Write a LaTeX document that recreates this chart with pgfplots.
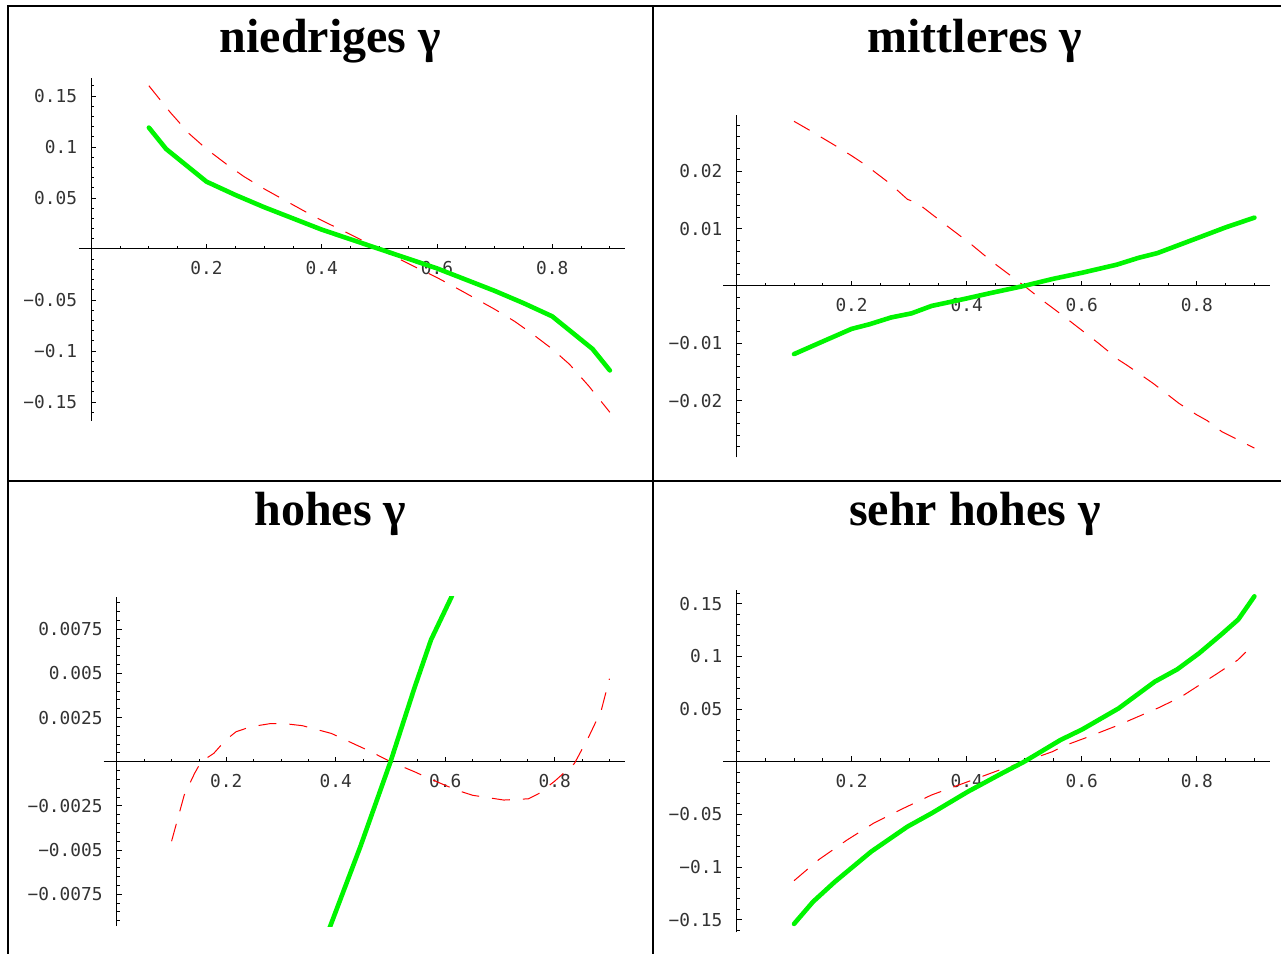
\documentclass[border=0pt]{standalone}
\usepackage{fontspec}
\setmainfont{Liberation Serif}
\newfontfamily\tickfont{DejaVu Sans Mono}
\usepackage{pgfplots}
\pgfplotsset{compat=1.18}
\definecolor{mygreen}{RGB}{0,245,0}
\definecolor{myred}{RGB}{255,0,0}
\pgfplotsset{
  mma/.style={
    scale only axis,
    axis lines=middle,
    axis line style={-, line width=0.5pt, black},
    tick align=inside,
    major tick length=2.6pt,
    minor tick length=1.6pt,
    every tick/.style={black, line width=0.4pt},
    tick label style={font=\tickfont\fontsize{8.9}{10}\selectfont, text=black!80},
    xticklabel style={anchor=north, yshift=-2.7pt},
    yticklabel style={anchor=east, xshift=-3.6pt},
    scaled y ticks=false,
    scaled x ticks=false,
    xtick={0.2,0.4,0.6,0.8},
    xticklabels={0.2,0.4,0.6,0.8},
    minor xtick={0.05,0.1,0.15,0.25,0.3,0.35,0.45,0.5,0.55,0.65,0.7,0.75,0.85,0.9},
    clip=true,
  },
  grn/.style={mygreen, line width=2.3pt, line join=round, line cap=round},
  rd/.style={myred, line width=0.5pt, dash pattern=on 9pt off 6.5pt},
}
\newcommand\titlefont{\bfseries\fontsize{24}{28}\selectfont}
\begin{document}
\begin{tikzpicture}
% frame
\draw[line width=1.2pt] (3.9pt,-477pt) -- (3.9pt,-3.1pt) -- (640.5pt,-3.1pt);
\draw[line width=1.2pt] (326.35pt,-3.1pt) -- (326.35pt,-477pt);
\draw[line width=1.2pt] (3.9pt,-240.5pt) -- (640.5pt,-240.5pt);
% titles
\node[anchor=base, inner sep=0pt] at (165.2pt,-26pt) {\titlefont niedriges γ};
\node[anchor=base, inner sep=0pt] at (487.5pt,-26pt) {\titlefont mittleres γ};
\node[anchor=base, inner sep=0pt] at (165.2pt,-262.5pt) {\titlefont hohes γ};
\node[anchor=base, inner sep=0pt] at (487.5pt,-262.5pt) {\titlefont sehr hohes γ};

% Panel 1
\begin{axis}[mma, at={(39.4pt,-210.35pt)}, anchor=south west,
  width=273pt, height=171.2pt,
  xmin=-0.0216, xmax=0.926, ymin=-0.1683, ymax=0.1673,
  ytick={-0.15,-0.1,-0.05,0.05,0.1,0.15},
  yticklabels={−0.15,−0.1,−0.05,0.05,0.1,0.15},
  minor ytick={-0.16,-0.14,-0.13,-0.12,-0.11,-0.09,-0.08,-0.07,-0.06,-0.04,-0.03,-0.02,-0.01,0.01,0.02,0.03,0.04,0.06,0.07,0.08,0.09,0.11,0.12,0.13,0.14,0.16}]
\addplot[rd] coordinates {(0.1,0.160) (0.137,0.134) (0.17,0.113) (0.2,0.098) (0.235,0.083) (0.265,0.071) (0.3,0.059) (0.335,0.048) (0.367,0.038) (0.4,0.028) (0.44,0.017) (0.47,0.0085) (0.5,0) (0.53,-0.0085) (0.56,-0.017) (0.6,-0.028) (0.633,-0.038) (0.665,-0.048) (0.7,-0.059) (0.735,-0.071) (0.765,-0.083) (0.8,-0.098) (0.83,-0.113) (0.863,-0.134) (0.9,-0.160)};
\addplot[grn] coordinates {(0.1,0.119) (0.13,0.098) (0.165,0.082) (0.2,0.066) (0.25,0.053) (0.3,0.041) (0.35,0.030) (0.4,0.019) (0.45,0.0095) (0.5,0) (0.55,-0.0095) (0.6,-0.019) (0.65,-0.030) (0.7,-0.041) (0.75,-0.053) (0.8,-0.066) (0.835,-0.082) (0.87,-0.098) (0.9,-0.119)};
\end{axis}

% Panel 2
\begin{axis}[mma, at={(361.6pt,-228.65pt)}, anchor=south west,
  width=273.25pt, height=171.15pt,
  xmin=-0.0231, xmax=0.9266, ymin=-0.0299, ymax=0.0298,
  ytick={-0.02,-0.01,0.01,0.02},
  yticklabels={−0.02,−0.01,0.01,0.02},
  minor ytick={-0.028,-0.026,-0.024,-0.022,-0.018,-0.016,-0.014,-0.012,-0.008,-0.006,-0.004,-0.002,0.002,0.004,0.006,0.008,0.012,0.014,0.016,0.018,0.022,0.024,0.026,0.028}]
\addplot[rd] coordinates {(0.1,0.0287) (0.126,0.0272) (0.171,0.0245) (0.2,0.0227) (0.224,0.0211) (0.266,0.0179) (0.297,0.0151) (0.315,0.0144) (0.36,0.0109) (0.406,0.0074) (0.43,0.0054) (0.451,0.0037) (0.5,0) (0.538,-0.0030) (0.566,-0.0051) (0.629,-0.0100) (0.664,-0.0129) (0.678,-0.0138) (0.724,-0.0170) (0.769,-0.0205) (0.8,-0.0225) (0.818,-0.0235) (0.843,-0.0254) (0.9,-0.0283)};
\addplot[grn] coordinates {(0.1,-0.0119) (0.143,-0.0100) (0.2,-0.0075) (0.231,-0.0067) (0.269,-0.0055) (0.304,-0.0048) (0.339,-0.0035) (0.395,-0.0023) (0.444,-0.0012) (0.5,0) (0.549,0.0012) (0.601,0.0023) (0.661,0.0037) (0.699,0.0049) (0.731,0.0057) (0.8,0.0083) (0.85,0.0102) (0.9,0.0119)};
\end{axis}

% Panel 3
\begin{axis}[mma, at={(51.8pt,-463pt)}, anchor=south west,
  width=260.8pt, height=164.65pt,
  xmin=-0.0242, xmax=0.9288, ymin=-0.0093, ymax=0.00934,
  ytick={-0.0075,-0.005,-0.0025,0.0025,0.005,0.0075},
  yticklabels={−0.0075,−0.005,−0.0025,0.0025,0.005,0.0075},
  minor ytick={-0.009,-0.0085,-0.008,-0.007,-0.0065,-0.006,-0.0055,-0.0045,-0.004,-0.0035,-0.003,-0.002,-0.0015,-0.001,-0.0005,0.0005,0.001,0.0015,0.002,0.003,0.0035,0.004,0.0045,0.0055,0.006,0.0065,0.007,0.008,0.0085,0.009}]
\addplot[rd] coordinates {(0.1,-0.0045) (0.123,-0.0019) (0.142,-0.00066) (0.154,0) (0.177,0.00047) (0.199,0.00123) (0.218,0.0017) (0.245,0.00198) (0.279,0.00215) (0.302,0.00217) (0.339,0.00204) (0.392,0.0016) (0.438,0.00094) (0.464,0.00057) (0.5,0) (0.544,-0.00057) (0.57,-0.00094) (0.62,-0.0016) (0.65,-0.0019) (0.707,-0.00217) (0.752,-0.0021) (0.771,-0.0018) (0.8,-0.0011) (0.836,-0.0001) (0.862,0.0014) (0.885,0.0029) (0.9,0.0047)};
\addplot[grn] coordinates {(0.35,-0.0125) (0.39,-0.0093) (0.445,-0.0048) (0.5,0) (0.544,0.0042) (0.574,0.0069) (0.611,0.0093) (0.65,0.0125)};
\end{axis}

% Panel 4
\begin{axis}[mma, at={(361.6pt,-466.15pt)}, anchor=south west,
  width=273.25pt, height=171.15pt,
  xmin=-0.0231, xmax=0.9266, ymin=-0.162, ymax=0.163,
  ytick={-0.15,-0.1,-0.05,0.05,0.1,0.15},
  yticklabels={−0.15,−0.1,−0.05,0.05,0.1,0.15},
  minor ytick={-0.16,-0.14,-0.13,-0.12,-0.11,-0.09,-0.08,-0.07,-0.06,-0.04,-0.03,-0.02,-0.01,0.01,0.02,0.03,0.04,0.06,0.07,0.08,0.09,0.11,0.12,0.13,0.14,0.16}]
\addplot[rd] coordinates {(0.1,-0.113) (0.143,-0.093) (0.192,-0.0744) (0.238,-0.0585) (0.29,-0.0443) (0.339,-0.0316) (0.402,-0.019) (0.465,-0.0063) (0.5,0) (0.549,0.0095) (0.57,0.0152) (0.612,0.0237) (0.664,0.0348) (0.734,0.0513) (0.773,0.0617) (0.836,0.0839) (0.871,0.0965) (0.885,0.104)};
\addplot[grn] coordinates {(0.1,-0.154) (0.133,-0.133) (0.171,-0.114) (0.234,-0.0854) (0.297,-0.0617) (0.339,-0.049) (0.402,-0.0285) (0.458,-0.012) (0.5,0) (0.563,0.0206) (0.601,0.0307) (0.664,0.0506) (0.727,0.076) (0.766,0.0877) (0.804,0.103) (0.843,0.121) (0.872,0.135) (0.9,0.157)};
\end{axis}
\pgfresetboundingbox
\path (0,0) rectangle (640.5pt,-477pt);
\end{tikzpicture}
\end{document}
